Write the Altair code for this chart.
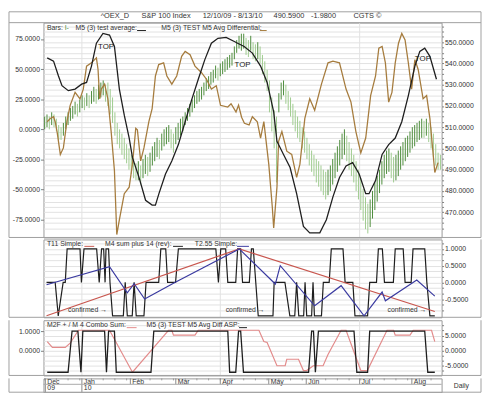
import altair as alt
import pandas as pd

# ---------------- panel 1: S&P 100 daily bars (right axis) ----------------
bar_high = [515, 516, 515, 517, 516, 514, 511, 510, 512, 515,
            517, 519, 520, 522, 521, 523, 525, 524, 526, 525,
            527, 529, 528, 530, 531, 532, 530, 531, 528, 524,
            517, 512, 509, 507, 505, 502, 500, 497, 495, 493,
            494, 492, 495, 497, 496, 498, 501, 503, 505, 504,
            507, 509, 510, 511, 509, 507, 510, 512, 514, 515,
            517, 519, 521, 523, 525, 527, 528, 529, 531, 533,
            534, 536, 537, 539, 538, 540, 541, 542, 543, 544,
            545, 548, 551, 553, 554, 554, 552, 551, 553, 550,
            549, 550, 548, 544, 541, 537, 532, 524, 518, 515,
            526, 531, 532, 530, 527, 524, 521, 518, 515, 513,
            510, 508, 505, 502, 499, 497, 495, 494, 492, 490,
            489, 490, 492, 495, 498, 501, 504, 507, 509, 506,
            503, 500, 497, 494, 490, 486, 481, 477, 474, 476,
            480, 484, 487, 490, 494, 497, 499, 500, 498, 496,
            497, 499, 501, 503, 505, 506, 508, 510, 511, 512,
            513, 514, 513, 514, 512, 510, 507, 502, 498, 497]
bar_low = [509, 510, 509, 511, 510, 508, 504, 504, 506, 509,
           511, 513, 514, 516, 515, 517, 519, 518, 520, 519,
           521, 522, 521, 523, 524, 525, 522, 520, 516, 512,
           506, 502, 500, 497, 495, 493, 490, 488, 486, 485,
           485, 483, 486, 488, 487, 489, 492, 494, 496, 495,
           499, 501, 502, 503, 500, 498, 502, 504, 506, 508,
           511, 513, 515, 517, 519, 521, 522, 523, 525, 527,
           528, 530, 531, 533, 532, 534, 535, 536, 537, 538,
           539, 542, 545, 547, 546, 547, 544, 543, 546, 542,
           541, 542, 540, 535, 531, 527, 517, 508, 500, 484,
           517, 523, 525, 521, 518, 515, 511, 508, 505, 503,
           500, 498, 495, 492, 489, 487, 484, 482, 480, 478,
           476, 478, 480, 483, 486, 489, 492, 495, 497, 494,
           490, 487, 484, 480, 476, 471, 466, 462, 460, 463,
           467, 471, 475, 479, 483, 486, 488, 489, 486, 484,
           485, 487, 490, 492, 494, 496, 498, 500, 501, 503,
           504, 505, 505, 506, 503, 500, 496, 492, 490, 490]

# M5 (3) test average (black, left axis)
avg_t = [1.6, 4.3, 6.4, 7.9, 10.6, 13.5, 16.3, 18.4, 20.5, 22.6, 25.4, 28.2, 30.3, 32.4, 34.5,
         36.6, 38.0, 40.8, 43.6, 46.4, 47.8, 49.3, 52.1, 54.8, 57.6, 60.5, 63.2, 66.1, 68.9, 71.7,
         74.5, 78.0, 81.5, 82.9, 85.7, 89.2, 92.7, 95.5, 98.3, 99.7, 102.5, 105.3, 108.1, 111.0, 113.7,
         118.0, 120.8, 123.6, 126.4, 129.2, 132.0, 134.8, 137.6, 139.0, 141.8, 144.6, 147.4, 150.2, 153.0,
         155.8, 158.6, 160.7, 162.8, 165.0, 167.8]
avg_v = [59.3, 56.6, 44.3, 36.2, 32.1, 33.4, 37.5, 38.9, 52.5, 71.5, 79.6, 78.3, 68.8, 33.4, 11.7,
         -7.3, -23.6, -40.0, -59.0, -63.0, -63.0, -53.5, -37.2, -26.3, -12.7, 6.3, 24.0, 41.6, 57.9, 71.5,
         75.6, 76.4, 72.9, 71.5, 68.8, 63.3, 52.5, 38.9, 14.4, -10.0, -20.9, -31.8, -53.5, -80.7, -86.1,
         -86.1, -75.2, -56.2, -40.0, -30.4, -27.7, -37.2, -53.5, -53.5, -42.6, -20.9, -12.7, -7.3, 6.3,
         28.0, 52.5, 64.7, 67.4, 60.6, 41.6]

# M5 (3) TEST M5 Avg Differential (brown, left axis)
diff_t = [1.6, 2.9, 4.3, 5.0, 5.8, 7.2, 8.5, 10.0, 11.4, 13.5, 15.6, 17.0, 18.4, 20.5, 22.6,
          23.3, 24.0, 24.7, 26.1, 27.5, 28.9, 30.3, 31.3, 32.4, 34.5, 36.6, 38.0, 39.4, 40.1, 41.5,
          42.9, 45.0, 46.4, 47.8, 49.2, 51.3, 52.7, 54.8, 56.9, 59.0, 60.5, 62.6, 64.7, 67.5, 69.6,
          71.7, 73.8, 75.6, 78.7, 80.1, 82.2, 83.3, 84.6, 85.8, 87.8, 89.2, 91.3, 92.7, 94.1, 96.2,
          97.7, 98.3, 99.7, 100.4, 101.8, 103.9, 106.0, 108.1, 109.5, 111.6, 113.7, 115.8, 118.7, 121.5, 123.6,
          126.4, 129.2, 131.3, 133.4, 135.5, 137.6, 139.7, 141.8, 143.2, 144.6, 146.0, 147.4, 148.8, 150.2, 151.6,
          153.0, 154.4, 155.8, 157.2, 158.6, 160.0, 162.1, 163.6, 165.0, 166.4, 167.1, 168.5]
diff_v = [6.3, 9.0, 10.4, 6.3, -1.9, -20.9, -15.5, 6.3, 19.9, 30.7, 25.3, 33.4, 52.5, 55.2, 59.3,
          49.7, 25.3, 33.4, 37.5, 25.3, -1.9, -34.5, -87.5, -75.2, -53.5, -48.1, -29.0, 0.8, -0.5, -26.3,
          -15.5, 6.3, 17.1, 44.3, 53.8, 55.2, 44.3, 37.5, 44.3, 60.6, 64.7, 62.0, 52.5, 47.0, 41.6,
          33.4, 36.2, 19.9, 18.5, 21.2, 14.4, 20.0, 10.0, 5.0, 3.6, 10.4, 6.3, -7.3, 6.3, -29.0,
          -64.4, -82.0, -48.1, -10.0, -1.9, -18.2, -20.9, -40.0, -29.0, 9.0, 25.3, 15.8, 37.5, 55.2, 56.6,
          55.2, 33.4, 22.6, -1.9, -19.6, -7.3, 28.0, 44.3, 67.4, 68.8, 55.2, 22.6, 30.7, 55.2, 71.5,
          79.6, 74.2, 55.2, 33.4, 57.9, 49.7, 25.3, 28.0, 9.0, -20.9, -35.9, -27.7]

top_t = [26.7, 85.0, 162.0]
top_v = [68.6, 53.1, 58.3]

# ---------------- panel 2 ----------------
t11_t = [1.3, 83.6, 167.1]
t11_v = [-1.0, 1.0, -0.87]
m4_t = [1.3, 5.0, 6.3, 8.4, 9.3, 10.1, 15.6, 16.2, 17.3, 22.7, 23.8, 24.8, 25.7, 26.3, 26.7,
        27.8, 28.4, 29.5, 34.1, 34.9, 35.8, 37.9, 38.7, 39.6, 42.9, 43.8, 49.2, 50.1, 52.2, 53.0,
        56.4, 57.6, 73.6, 74.7, 75.7, 77.8, 78.7, 82.1, 82.9, 84.2, 85.0, 87.9, 88.8, 89.6, 91.7,
        98.0, 98.5, 103.1, 105.2, 107.3, 108.1, 109.0, 111.1, 111.7, 112.4, 114.5, 115.1, 115.7, 118.7, 119.5,
        122.0, 122.9, 127.9, 128.8, 132.1, 133.0, 138.4, 139.3, 142.2, 143.0, 144.7, 145.6, 149.4, 150.2, 153.6,
        154.4, 157.0, 157.8, 162.8, 163.7, 165.0, 167.1]
m4_v = [0, 0, -1, 0, 0, 1, 1, 0, 1, 1, 0, 1, 1, 0, 1,
        1, 0, -1, -1, 0, -1, -1, 0, -1, -1, 0, 0, 1, 1, 0,
        0, 1, 1, 0, 1, 1, 0, 0, 1, 1, 0, 0, 1, 1, -1,
        -1, 0, 0, -1, -1, 0, -1, -1, 0, -1, -1, 0, -1, -1, 0,
        0, 1, 1, 0, 0, -1, -1, 0, 0, 1, 1, 0, 0, 1, 1,
        0, 0, 1, 1, 0, -1, -1]
t255_t = [1.3, 28.2, 35.8, 38.7, 43.2, 56.3, 83.6, 99.0, 101.1, 115.8, 127.1, 136.9, 144.6, 146.0, 159.4, 167.1]
t255_v = [-0.07, 0.47, -0.31, -0.04, -0.5, 0.0, 1.0, -0.05, 0.5, -0.7, -0.1, -1.0, -0.29, -0.55, 0.07, -0.41]
conf_t = [10.5, 77.8, 146.9]
conf_v = [-0.82, -0.82, -0.82]

# ---------------- panel 3 ----------------
combo_t = [1.6, 3.8, 9.3, 11.4, 14.9, 28.2, 38.0, 53.4, 54.8, 55.5, 64.7, 66.1, 82.9, 92.0, 94.1,
           95.5, 99.7, 103.2, 103.9, 108.9, 111.0, 112.4, 115.2, 119.4, 121.5, 127.1, 129.2, 135.5, 138.3, 146.7,
           149.5, 150.2, 156.5, 157.9, 165.7, 167.1]
combo_v = [3.0, 1.06, 1.06, 2.45, 6.77, 6.77, -7.2, 6.77, 6.77, 5.16, 5.16, 6.77, 6.77, 6.77, 3.0,
           2.68, -5.06, -5.06, -2.9, -2.9, -6.67, -6.67, -5.06, -5.06, -1.3, 6.77, 6.77, -6.67, -6.67, 6.77,
           6.77, 5.16, 5.16, 6.77, 6.77, 3.0]
asp_t = [1.6, 10.5, 12.2, 14.7, 16.0, 16.8, 26.1, 26.9, 27.8, 30.3, 31.1, 45.9, 47.1, 78.7, 79.5,
         82.1, 83.3, 84.2, 85.4, 113.2, 114.5, 115.3, 116.1, 117.4, 132.6, 133.8, 138.4, 139.3, 162.8, 164.1, 167.1]
asp_v = [-1.12, -1.12, 1, 1, -1.12, 1, 1, -1.12, 1, 1, -1.12, -1.12, 1, 1, -1.12,
         -1.12, 1, 1, -1.12, -1.12, 1, 1, -1.12, 1, 1, -1.12, -1.12, 1, 1, -1.12, -1.12]

# ---------------- date axis ----------------
months = ["Dec", "Jan", "Feb", "Mar", "Apr", "May", "Jun", "Jul", "Aug"]
month_t = [0.8, 16.4, 37.1, 56.5, 75.5, 96.2, 112.2, 135.0, 157.3]
years = ["09", "10"]
year_t = [0.8, 16.4]
quarter_t = [16.4, 75.5, 135.0]

# ---------------- styling ----------------
FONT = "Liberation Sans"
W = 404
H1, H2, H3, H4 = 218, 79, 56, 14
LX = -35
RX = W + 40
GRID = "#e2e2e2"
FRAME = "#a0a0a0"
TXT = "#333333"
BLACK = "#1e1e1e"
BROWN = "#a67c3e"
GREEN = "#4d8c3c"
RED = "#c8564e"
BLUE = "#3a3aa0"
PINK = "#e38b8b"
FMT = "replace(format(datum.value, '.4f'), '\u2212', '-')"

XS = alt.Scale(domain=[0, 170], nice=False, zero=False)


def xenc():
    return alt.X("t:Q", scale=XS, axis=None)


def one():
    return pd.DataFrame({"k": [0]})


def label(text, x, y, color=TXT, size=7, align="left"):
    return alt.Chart(one()).mark_text(text=text, font=FONT, fontSize=size, color=color,
                                      align=align, baseline="middle").encode(x=alt.value(x), y=alt.value(y))


def hrule(x1, x2, y, color=FRAME):
    return alt.Chart(one()).mark_rule(color=color, strokeWidth=1).encode(
        x=alt.value(x1), x2=alt.value(x2), y=alt.value(y))


def vrule(x, y1, y2, color=FRAME):
    return alt.Chart(one()).mark_rule(color=color, strokeWidth=1).encode(
        x=alt.value(x), y=alt.value(y1), y2=alt.value(y2))


def quarter(h):
    return alt.Chart(pd.DataFrame({"t": quarter_t})).mark_rule(color=GRID, strokeWidth=1).encode(
        x=xenc(), y=alt.value(0), y2=alt.value(h))


def yaxis(orient, values, expr, grid=False, tick=3):
    return alt.Axis(orient=orient, values=values, labelExpr=expr, grid=grid, gridColor=GRID,
                    gridWidth=1, ticks=True, tickSize=tick, tickColor="#808080", tickWidth=1,
                    domain=False, labelFont=FONT, labelFontSize=7, labelColor=TXT, labelPadding=1,
                    labelOverlap=False, labelFlush=False, title=None)


def frame(h, top=0):
    return [hrule(LX, RX, h), vrule(LX, top, h), vrule(RX, top, h)]


def line(ts, vs, color, yfun, width=1.3):
    return alt.Chart(pd.DataFrame({"t": ts, "v": vs})).mark_line(
        color=color, strokeWidth=width).encode(x=xenc(), y=yfun())


# ---------------- panel 1 ----------------
bar_t = [i + 0.5 for i in range(len(bar_high))]
mids = [(h + l) / 2 for h, l in zip(bar_high, bar_low)]
dirs = ["up"] + ["up" if mids[i] >= mids[i - 1] else "down" for i in range(1, len(mids))]
bars_df = pd.DataFrame({"t": bar_t, "hi": bar_high, "lo": bar_low, "dir": dirs})

price_ticks = [462.5 + 2.5 * k for k in range(39)]
price_expr = "(datum.value % 10 == 0 && datum.value >= 470) ? " + FMT + " : ''"
bars = alt.Chart(bars_df).mark_rule(strokeWidth=1).encode(
    x=xenc(),
    y=alt.Y("hi:Q", scale=alt.Scale(domain=[458.1, 559.2], nice=False, zero=False),
            axis=yaxis("right", price_ticks, price_expr, grid=True, tick=2)),
    y2="lo:Q",
    color=alt.Color("dir:N", scale=alt.Scale(domain=["up", "down"], range=[GREEN, "#9ecb8e"]), legend=None),
)


def y1():
    return alt.Y("v:Q", scale=alt.Scale(domain=[-89.9, 88.6], nice=False, zero=False),
                 axis=yaxis("left", [-75, -50, -25, 0, 25, 50, 75], FMT))


tops = alt.Chart(pd.DataFrame({"t": top_t, "v": top_v})).mark_text(
    text="TOP", font=FONT, fontSize=8, color="#222222").encode(x=xenc(), y=y1())
left1 = alt.layer(line(diff_t, diff_v, BROWN, y1), line(avg_t, avg_v, BLACK, y1), tops)

p1_text = [
    label("^OEX_D", 58, -7, size=7.5),
    label("S&P 100 Index", 99.5, -7, size=7.5),
    label("12/10/09 - 8/13/10", 161.5, -7, size=7.5),
    label("490.5900", 233.5, -7, size=7.5),
    label("-1.9800", 271.5, -7, size=7.5),
    label("CGTS \u00a9", 314.5, -7, size=7.5),
    label("Bars:", 3.5, 5.5),
    label("I-", 21.5, 5.5, color=GREEN),
    label("M5 (3) test average:", 32.5, 5.5),
    hrule(95, 104, 8, BLACK),
    label("M5 (3) TEST M5 Avg Differential:", 119.5, 5.5),
    hrule(219.5, 226.5, 8, BROWN),
]
p1 = alt.layer(quarter(H1), bars, left1, *p1_text,
               hrule(LX, RX, -11), hrule(LX, RX, 0), *frame(H1, -11)
               ).resolve_scale(y="independent").properties(width=W, height=H1)

# ---------------- panel 2 ----------------
p2_ticks = [k / 6 for k in range(-5, 8)]
p2_expr = ("(datum.value > -0.9 && datum.value < 1.1 && abs(datum.value * 2 - round(datum.value * 2)) < 0.001) ? "
           + FMT + " : ''")


def y2():
    return alt.Y("v:Q", scale=alt.Scale(domain=[-1.044, 1.282], nice=False, zero=False),
                 axis=yaxis("right", p2_ticks, p2_expr, grid=True, tick=2))


conf = alt.Chart(pd.DataFrame({"t": conf_t, "v": conf_v})).mark_text(
    text="confirmed \u2192", font=FONT, fontSize=7, color=TXT, align="left", baseline="middle"
).encode(x=xenc(), y=y2())
p2_text = [
    label("T11 Simple:", 3.5, 4.3),
    hrule(41.5, 51.5, 7, RED),
    label("M4 sum plus 14 (rev):", 62.5, 4.3),
    hrule(131.5, 141.5, 7, BLACK),
    label("T2.55 Simple:", 153.5, 4.3),
    hrule(196.5, 208.5, 7, BLUE),
]
p2 = alt.layer(quarter(H2), line(m4_t, m4_v, BLACK, y2, 1.2), line(t11_t, t11_v, RED, y2, 1.1),
               line(t255_t, t255_v, BLUE, y2, 1.2), conf, *p2_text, *frame(H2)
               ).properties(width=W, height=H2)

# ---------------- panel 3 ----------------
p3_ticks = [k * 5 / 3 for k in range(-4, 6)]
p3_expr = "(abs(datum.value) < 0.01 || abs(abs(datum.value) - 5) < 0.01) ? " + FMT + " : ''"


def y3r():
    return alt.Y("v:Q", scale=alt.Scale(domain=[-8.29, 10.1], nice=False, zero=False),
                 axis=yaxis("right", p3_ticks, p3_expr, grid=True, tick=2))


def y3l():
    return alt.Y("v:Q", scale=alt.Scale(domain=[-1.285, 1.565], nice=False, zero=False),
                 axis=yaxis("left", [0, 1], FMT))


p3_text = [
    label("M2F + / M 4 Combo Sum:", 3.5, 4.8),
    hrule(84.5, 94.5, 7.5, PINK),
    label("M5 (3) TEST M5 Avg Diff ASP:", 104.5, 4.8),
    hrule(198.5, 206.5, 7.5, BLACK),
]
p3 = alt.layer(quarter(H3), line(combo_t, combo_v, PINK, y3r, 1.2), line(asp_t, asp_v, BLACK, y3l, 1.3),
               *p3_text, *frame(H3)
               ).resolve_scale(y="independent").properties(width=W, height=H3)

# ---------------- date strip ----------------
mon = alt.Chart(pd.DataFrame({"t": month_t, "m": months}))
mon_rules = mon.mark_rule(color="#8a8a8a", strokeWidth=1).encode(x=xenc(), y=alt.value(0), y2=alt.value(6))
mon_text = mon.mark_text(font=FONT, fontSize=7, color=TXT, align="left", baseline="middle", dx=2).encode(
    x=xenc(), y=alt.value(3.4), text="m:N")
yr = alt.Chart(pd.DataFrame({"t": year_t, "yv": years}))
yr_rules = yr.mark_rule(color="#8a8a8a", strokeWidth=1).encode(x=xenc(), y=alt.value(6), y2=alt.value(H4))
yr_text = yr.mark_text(font=FONT, fontSize=7, color=TXT, align="left", baseline="middle", dx=2).encode(
    x=xenc(), y=alt.value(10), text="yv:N")
weeks = alt.Chart(pd.DataFrame({"t": bar_t[::5]})).mark_rule(color="#9a9a9a", strokeWidth=1).encode(
    x=xenc(), y=alt.value(0), y2=alt.value(2))
p4 = alt.layer(weeks, mon_rules, yr_rules, mon_text, yr_text, hrule(0, W, 6, "#a8a8a8"),
               label("Daily", W + 20, 7.5, align="center"), *frame(H4)
               ).properties(width=W, height=H4)

chart = alt.vconcat(p1, p2, p3, p4, spacing=0, padding=0, background="white").configure_view(
    stroke="#999999", strokeWidth=1)

chart.save("out.html", embed_options={"renderer": "svg", "actions": False})
